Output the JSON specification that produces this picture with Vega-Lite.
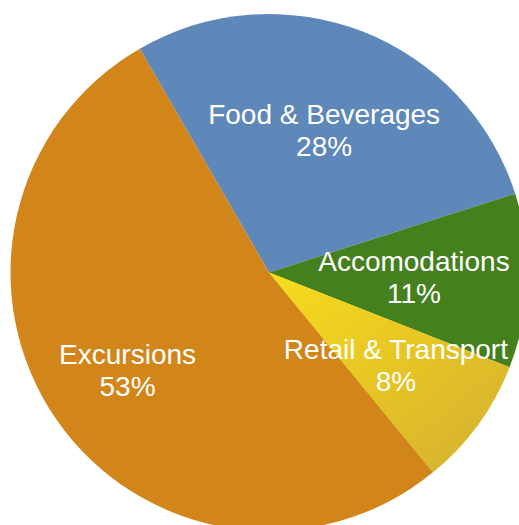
{
  "$schema": "https://vega.github.io/schema/vega-lite/v6.json",
  "autosize": "none",
  "width": 538,
  "height": 545,
  "padding": 0,
  "background": "white",
  "config": {"view": {"stroke": null}},
  "data": {
    "values": [
      {"category": "Food & Beverages", "value": 28.4, "ord": 1},
      {"category": "Accomodations", "value": 10.9, "ord": 2},
      {"category": "Retail & Transport", "value": 8.1, "ord": 3},
      {"category": "Excursions", "value": 52.6, "ord": 4}
    ]
  },
  "transform": [
    {"calculate": "[datum.category, format(datum.value, '.0f') + '%']", "as": "label"}
  ],
  "encoding": {
    "theta": {"field": "value", "type": "quantitative", "stack": true, "scale": {"range": [-0.5236, 5.7596]}},
    "order": {"field": "ord", "type": "quantitative"}
  },
  "layer": [
    {
      "mark": {"type": "arc", "outerRadius": 258.5},
      "encoding": {
        "color": {
          "field": "category",
          "type": "nominal",
          "legend": null,
          "scale": {
            "domain": ["Food & Beverages", "Accomodations", "Retail & Transport", "Excursions"],
            "range": ["#5E87BA", "#44801E", "#EBCB24", "#D28519"]
          }
        }
      }
    },
    {
      "mark": {
        "type": "arc",
        "outerRadius": 258.5,
        "fill": {
          "gradient": "linear",
          "x1": 0, "y1": 0, "x2": 1, "y2": 1,
          "stops": [
            {"offset": 0, "color": "#F7DC1C"},
            {"offset": 0.5, "color": "#E6C524"},
            {"offset": 1, "color": "#D3AF32"}
          ]
        }
      },
      "encoding": {
        "opacity": {
          "condition": {"test": "datum.category === 'Retail & Transport'", "value": 1},
          "value": 0
        }
      }
    },
    {
      "mark": {
        "type": "text",
        "font": "Liberation Sans",
        "fontSize": 28,
        "lineHeight": 32,
        "color": "white",
        "align": "center",
        "baseline": "middle",
        "dy": -14
      },
      "encoding": {
        "text": {"field": "label"},
        "radius": {
          "field": "value",
          "type": "quantitative",
          "scale": {"type": "linear", "zero": false, "domain": [8.1, 10.9, 28.4, 52.6], "range": [157, 145, 153, 172]}
        }
      }
    }
  ]
}
